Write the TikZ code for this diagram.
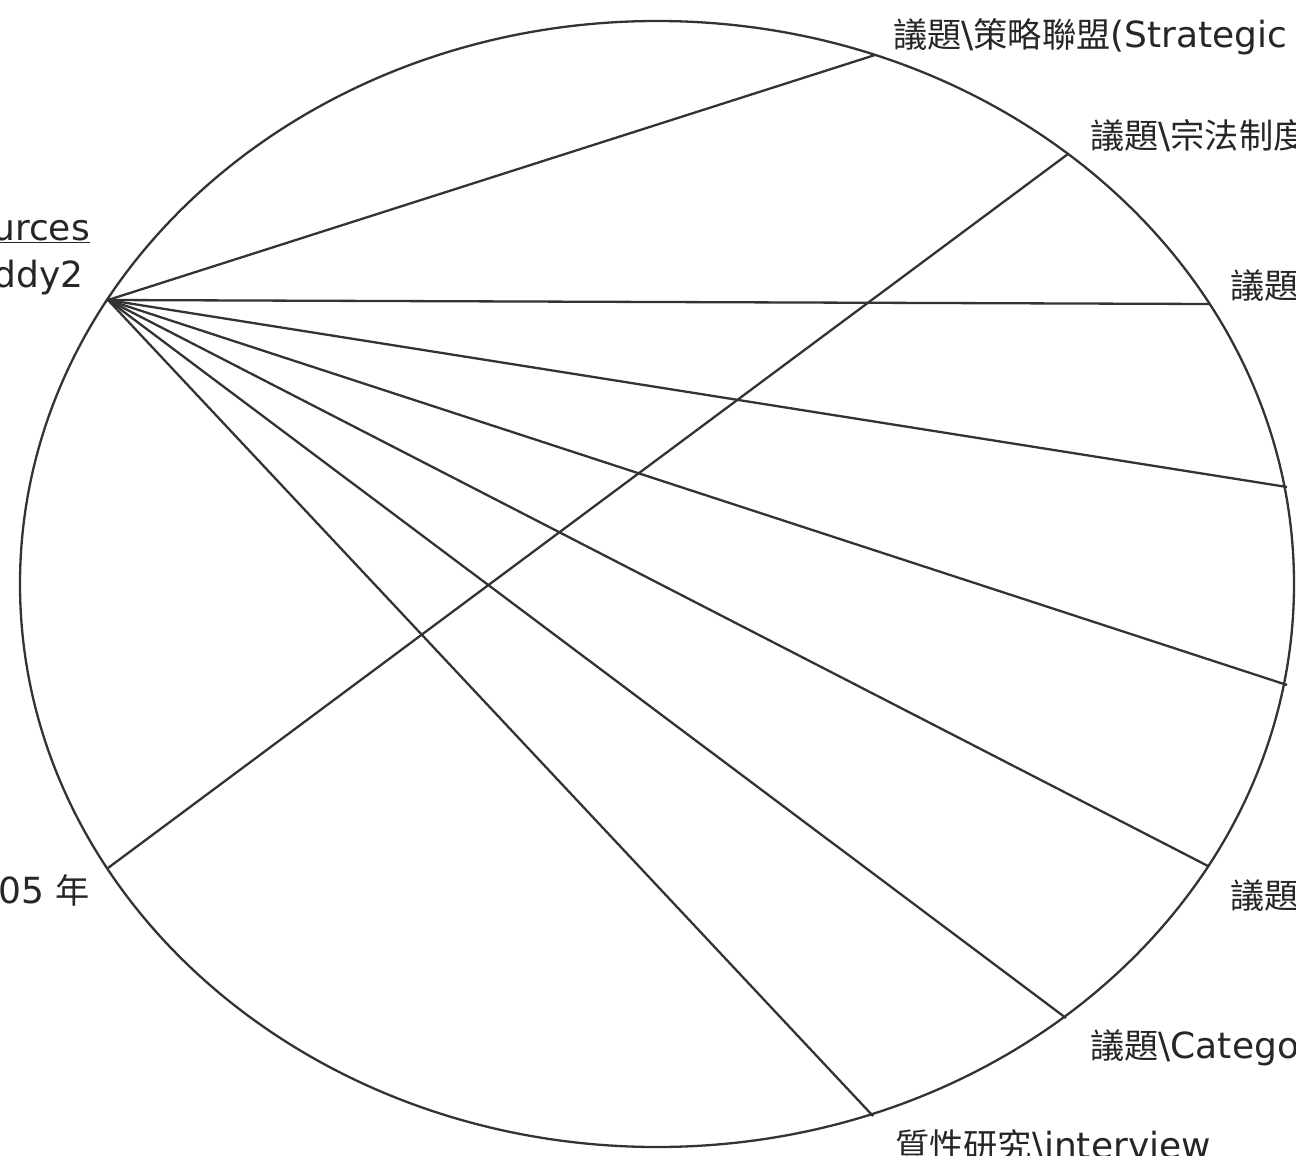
\documentclass[tikz,border=0pt]{standalone}
\usepackage{fontspec}
\usetikzlibrary{shapes.geometric}
\setmainfont{DejaVu Sans}
\newfontfamily\cjk[Scale=0.95]{Noto Sans CJK TC}
\definecolor{ink}{HTML}{333333}
\tikzset{
  edge/.style={draw=ink, line width=2.3pt},
  lbl/.style={inner sep=0pt, anchor=base west, font=\fontsize{36}{42}\selectfont, text=black!85},
  lblr/.style={inner sep=0pt, anchor=base east, font=\fontsize{36}{42}\selectfont, text=black!85}
}
\newcommand{\ck}[1]{{\cjk #1}}
\begin{document}
\begin{tikzpicture}[x=1pt,y=-1pt]
\useasboundingbox (0,0) rectangle (1296,1156);
\clip (0,0) rectangle (1296,1156);
\fill[white] (0,0) rectangle (1296,1156);
% circle
\node (ring) [draw=ink, line width=2.3pt, ellipse, minimum width=1274pt, minimum height=1126pt, inner sep=0pt] at (657,584) {};
% points on the ring
\coordinate (hub) at (108,300);
\coordinate (p1) at (875,55);
\coordinate (p2) at (1068,154);
\coordinate (p3) at (1210,304);
\coordinate (p4) at (1287,487);
\coordinate (p5) at (1287,685);
\coordinate (p6) at (1208,866);
\coordinate (p7) at (1066,1018);
\coordinate (p8) at (873,1116);
\coordinate (q1) at (108,868);
% connectors
\foreach \p in {p1,p3,p4,p5,p6,p7,p8}{\draw[edge] (hub) -- (\p);}
\draw[edge] (p2) -- (q1);
% labels right
\node[lbl] (t1) at (893,48) {\ck{議題}\textbackslash\ck{策略聯盟}(Strategic Alliance)};
\node[lbl] (t2) at (1090,148) {\ck{議題}\textbackslash\ck{宗法制度}};
\node[lbl] (t3) at (1230,298) {\ck{議題}};
\node[lbl] (t4) at (1230,908) {\ck{議題}};
\node[lbl] (t5) at (1090,1058) {\ck{議題}\textbackslash Category};
\node[lbl] (t6) at (895,1158) {\ck{質性研究}\textbackslash interview};
% labels left
\node[lblr] (s1) at (90,240) {\underline{Sources}};
\node[lblr] (s2) at (84,287) {Buddy2};
\node[lblr] (s3) at (90,903) {2005 \ck{年}};
\end{tikzpicture}
\end{document}
